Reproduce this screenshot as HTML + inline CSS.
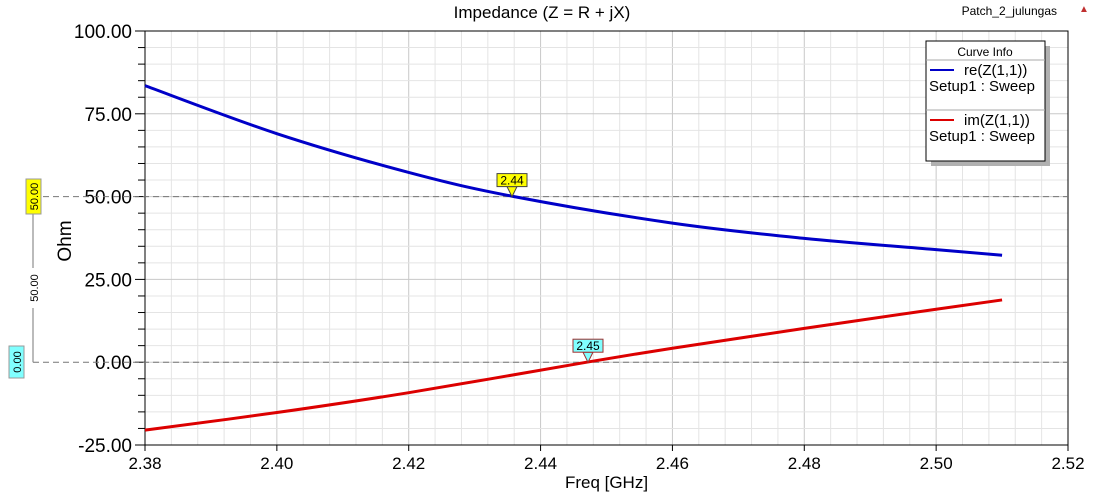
<!DOCTYPE html>
<html><head><style>
body{margin:0;background:#fff;}
svg text{font-family:"Liberation Sans",Arial,sans-serif;}
</style></head><body>
<svg id="s" width="1096" height="497" xmlns="http://www.w3.org/2000/svg"></svg>
<script>
const L=145,R=1068,T=31,B=445;
const X=f=>L+(f-2.38)/0.14*(R-L);
const Y=v=>T+(100-v)/125*(B-T);
let h='';
for(let i=0;i<=35;i++){const f=2.38+i*0.004;const x=X(f);if(x>R-0.5)break;h+=`<line x1="${x}" y1="${T}" x2="${x}" y2="${B}" stroke="${i%5==0?'#c8c8c8':'#e4e4e4'}" stroke-width="1"/>`;}
for(let v=-25;v<=100;v+=5){const y=Y(v);h+=`<line x1="${L}" y1="${y}" x2="${R}" y2="${y}" stroke="${v%25==0?'#c8c8c8':'#e4e4e4'}"/>`;h+=`<line x1="${L-(v%25==0?10:7)}" y1="${y}" x2="${L}" y2="${y}" stroke="#000"/>`;}
for(let v=-25;v<=100;v+=25){h+=`<text x="${L-13}" y="${Y(v)+7}" font-size="19" text-anchor="end">${v.toFixed(2)}</text>`;}
for(let i=0;i<=7;i++){const f=2.38+i*0.02;h+=`<line x1="${X(f)}" y1="${B}" x2="${X(f)}" y2="${B+6}" stroke="#000"/><text x="${X(f)}" y="${B+24}" font-size="17" text-anchor="middle">${f.toFixed(2)}</text>`;}
h+=`<rect x="${L}" y="${T}" width="${R-L}" height="${B-T}" fill="none" stroke="#000"/>`;
h+=`<line x1="33" y1="${Y(50)}" x2="${R}" y2="${Y(50)}" stroke="#777" stroke-dasharray="6,4"/>`;
h+=`<line x1="33" y1="${Y(0)}" x2="${R}" y2="${Y(0)}" stroke="#777" stroke-dasharray="6,4"/>`;
function cr(pts){let d=`M${pts[0][0]},${pts[0][1]}`;for(let i=0;i<pts.length-1;i++){const p0=pts[i-1]||pts[i],p1=pts[i],p2=pts[i+1],p3=pts[i+2]||p2;d+=`C${p1[0]+(p2[0]-p0[0])/6},${p1[1]+(p2[1]-p0[1])/6} ${p2[0]-(p3[0]-p1[0])/6},${p2[1]-(p3[1]-p1[1])/6} ${p2[0]},${p2[1]}`;}return d;}
const re=[[2.38,83.5],[2.40,69],[2.42,57.3],[2.436,50],[2.46,42],[2.48,37.4],[2.50,34],[2.51,32.3]];
const im=[[2.38,-20.5],[2.40,-15.2],[2.42,-9.2],[2.447,0],[2.46,4.2],[2.48,10.2],[2.50,16],[2.51,18.8]];
h+=`<path d="${cr(re.map(p=>[X(p[0]),Y(p[1])]))}" fill="none" stroke="#0000c8" stroke-width="3"/>`;
h+=`<path d="${cr(im.map(p=>[X(p[0]),Y(p[1])]))}" fill="none" stroke="#dc0000" stroke-width="3"/>`;
function flag(x,y,txt,c,bc){return `<polygon points="${x-5},${y-10} ${x+5},${y-10} ${x},${y}" fill="${c}" stroke="${bc}"/><rect x="${x-15}" y="${y-23}" width="30" height="13" fill="${c}" stroke="${bc}"/><text x="${x}" y="${y-12}" font-size="12" text-anchor="middle">${txt}</text>`;}
h+=flag(512,Y(50),'2.44','#ffff00','#444');
h+=flag(588,Y(0),'2.45','#80ffff','#a03030');
h+=`<line x1="33" y1="${Y(50)}" x2="33" y2="${Y(0)}" stroke="#777"/>`;
h+=`<rect x="26" y="179" width="15" height="35" fill="#ffff00" stroke="#999"/><text transform="translate(38,196.5) rotate(-90)" font-size="11" text-anchor="middle">50.00</text>`;
h+=`<rect x="9" y="346" width="15" height="32" fill="#80ffff" stroke="#999"/><text transform="translate(21,362) rotate(-90)" font-size="11" text-anchor="middle">0.00</text>`;
h+=`<rect x="27" y="268" width="12" height="40" fill="#fff"/><text transform="translate(38,288) rotate(-90)" font-size="11" text-anchor="middle">50.00</text>`;
h+=`<text transform="translate(71,241) rotate(-90)" font-size="19" text-anchor="middle">Ohm</text>`;
h+=`<text x="${(L+R)/2}" y="488" font-size="17" text-anchor="middle">Freq [GHz]</text>`;
h+=`<text x="542" y="18" font-size="17" text-anchor="middle">Impedance (Z = R + jX)</text>`;
h+=`<text x="1057" y="15" font-size="12" text-anchor="end">Patch_2_julungas</text>`;
h+=`<text x="1079" y="12" font-size="10" fill="#c03030">▲</text>`;
h+=`<rect x="931" y="46" width="119" height="120" fill="#b0b0b0"/><rect x="926" y="41" width="119" height="120" fill="#fff" stroke="#000"/>`;
h+=`<text x="985" y="56" font-size="12" text-anchor="middle">Curve Info</text><line x1="926" y1="60" x2="1045" y2="60" stroke="#aaa"/>`;
h+=`<line x1="930" y1="70" x2="954" y2="70" stroke="#0000c8" stroke-width="2"/><text x="964" y="75" font-size="15">re(Z(1,1))</text><text x="929" y="91" font-size="15">Setup1 : Sweep</text>`;
h+=`<line x1="926" y1="110" x2="1045" y2="110" stroke="#aaa"/>`;
h+=`<line x1="930" y1="120" x2="954" y2="120" stroke="#dc0000" stroke-width="2"/><text x="964" y="125" font-size="15">im(Z(1,1))</text><text x="929" y="141" font-size="15">Setup1 : Sweep</text>`;
document.getElementById('s').innerHTML=h;
</script>
</body></html>
